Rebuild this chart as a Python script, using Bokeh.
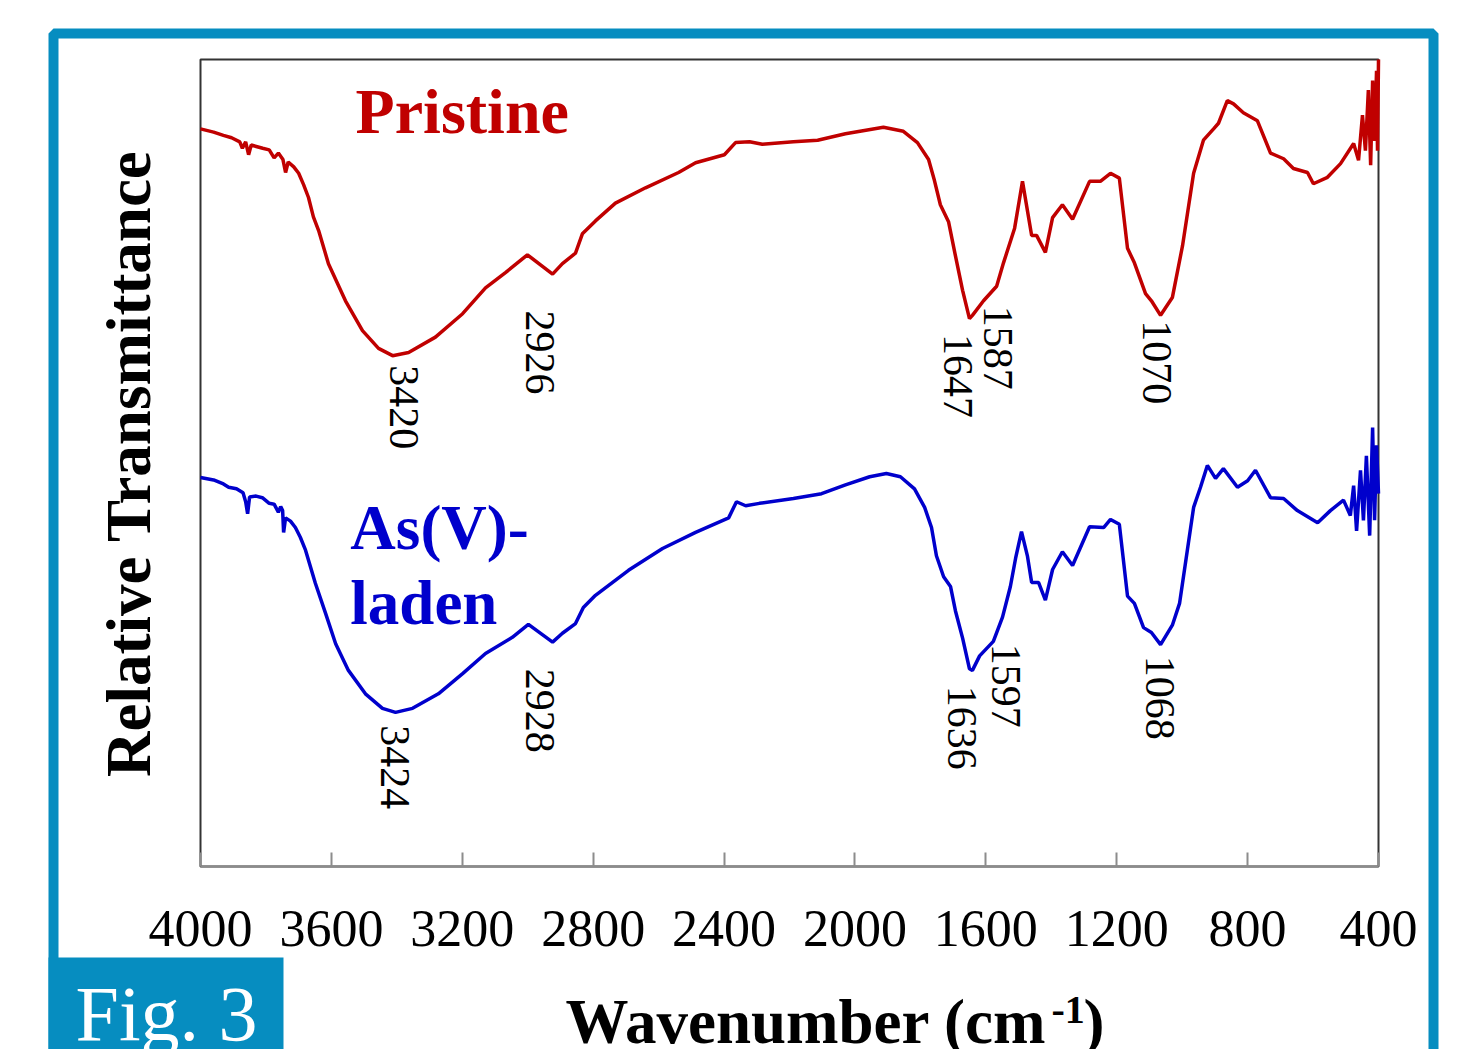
import numpy as np
from bokeh.plotting import figure
from bokeh.models import Range1d, FixedTicker, Label, BoxAnnotation, ColumnDataSource
from bokeh.core.properties import value
from bokeh.embed import file_html
from bokeh.resources import INLINE

# ---- data (wavenumber cm-1, relative transmittance a.u.) ----
pristine = [(4000, 91.4), (3960, 91.0), (3930, 90.6), (3905, 90.3), (3880, 89.8), (3872, 89.0),
            (3862, 89.8), (3853, 88.2), (3845, 89.4), (3810, 89.0), (3790, 88.8), (3775, 87.8),
            (3762, 88.4), (3748, 87.6), (3740, 86.0), (3732, 87.3), (3715, 86.7), (3700, 85.9),
            (3685, 84.5), (3670, 82.9), (3655, 80.5), (3639, 78.8), (3609, 74.7), (3557, 70.1),
            (3505, 66.4), (3456, 64.2), (3413, 63.3), (3364, 63.7), (3282, 65.6), (3199, 68.5),
            (3129, 71.7), (3068, 73.6), (3001, 75.8), (2924, 73.4), (2894, 74.7), (2854, 76.0),
            (2833, 78.4), (2793, 80.0), (2732, 82.2), (2640, 84.1), (2539, 86.0), (2487, 87.2),
            (2399, 88.2), (2365, 89.7), (2322, 89.8), (2283, 89.5), (2188, 89.8), (2114, 90.0),
            (2029, 90.8), (1913, 91.6), (1852, 91.1), (1809, 89.7), (1775, 87.6), (1757, 85.0),
            (1739, 82.0), (1714, 79.9), (1693, 75.7), (1671, 71.4), (1650, 67.9), (1641, 68.3),
            (1607, 70.1), (1567, 71.9), (1546, 74.8), (1512, 79.1), (1488, 84.9), (1460, 78.2),
            (1445, 78.2), (1418, 76.1), (1396, 80.4), (1366, 82.0), (1335, 80.2), (1283, 84.9),
            (1250, 84.9), (1219, 85.9), (1192, 85.3), (1167, 76.6), (1146, 74.8), (1112, 71.0),
            (1094, 70.1), (1066, 68.3), (1030, 70.5), (999, 76.9), (965, 85.9), (935, 90.0),
            (904, 91.4), (889, 92.1), (862, 94.9), (843, 94.5), (813, 93.4), (770, 92.4),
            (730, 88.4), (690, 87.7), (660, 86.5), (617, 86.0), (599, 84.6), (556, 85.4),
            (516, 87.1), (476, 89.6), (461, 87.5), (449, 93.1), (440, 88.7), (431, 96.2),
            (424, 86.9), (418, 97.4), (412, 89.9), (406, 98.6), (403, 88.7), (400, 100.0)]

as_laden = [(4000, 48.2), (3960, 47.9), (3930, 47.4), (3914, 47.0), (3890, 46.8), (3870, 46.3),
            (3862, 45.2), (3856, 43.7), (3850, 45.8), (3830, 45.9), (3811, 45.7), (3790, 45.0),
            (3775, 44.9), (3762, 43.9), (3755, 44.6), (3749, 44.1), (3746, 41.4), (3740, 43.2),
            (3725, 42.8), (3710, 42.0), (3695, 40.8), (3679, 39.2), (3649, 35.1), (3618, 31.4),
            (3587, 27.6), (3548, 24.3), (3496, 21.4), (3444, 19.6), (3404, 19.1), (3352, 19.6),
            (3273, 21.4), (3199, 23.9), (3129, 26.4), (3047, 28.4), (2998, 30.0), (2924, 27.8),
            (2894, 28.9), (2854, 30.1), (2830, 32.1), (2793, 33.6), (2692, 36.7), (2588, 39.4),
            (2487, 41.4), (2386, 43.2), (2362, 45.2), (2334, 44.7), (2292, 45.0), (2188, 45.6),
            (2102, 46.2), (2029, 47.3), (1955, 48.3), (1904, 48.7), (1861, 48.3), (1818, 46.8),
            (1787, 44.5), (1766, 42.0), (1751, 38.5), (1729, 35.9), (1708, 34.7), (1693, 31.7),
            (1671, 28.3), (1650, 24.5), (1641, 24.3), (1619, 26.1), (1577, 27.9), (1549, 30.9),
            (1525, 34.7), (1509, 38.2), (1491, 41.5), (1473, 38.5), (1460, 35.2), (1439, 35.2),
            (1418, 33.0), (1396, 36.8), (1366, 39.0), (1335, 37.3), (1283, 42.1), (1240, 42.0),
            (1219, 43.0), (1192, 42.4), (1167, 33.5), (1146, 32.6), (1118, 29.6), (1094, 29.0),
            (1066, 27.5), (1030, 29.9), (1008, 32.6), (965, 44.5), (944, 47.0), (923, 49.7),
            (898, 48.1), (874, 49.3), (831, 47.0), (800, 47.8), (776, 49.1), (730, 45.7),
            (690, 45.6), (648, 44.1), (586, 42.6), (547, 44.1), (507, 45.4), (486, 43.5),
            (476, 47.2), (467, 41.6), (455, 49.1), (446, 42.9), (437, 50.9), (427, 41.0),
            (418, 54.4), (412, 42.9), (406, 52.2), (400, 46.2)]

x_ticks = [4000, 3600, 3200, 2800, 2400, 2000, 1600, 1200, 800, 400]

peak_text_pristine = ["3420", "2926", "1647", "1587", "1070"]
peak_x_pristine = [3377, 2964, 1684, 1564, 1078]
peak_y_pristine = [62.1, 68.9, 66.0, 69.5, 67.7]

peak_text_laden = ["3424", "2928", "1636", "1597", "1068"]
peak_x_laden = [3407, 2964, 1674, 1537, 1069]
peak_y_laden = [17.5, 24.5, 22.4, 27.6, 26.1]

X_HI, X_LO = 4000, 400      # wavenumber axis limits
Y_LO, Y_HI = 0, 100         # transmittance axis limits

RED = "#C00000"
BLUE = "#0000CC"
CYAN = "#068DC0"
SERIF = "Liberation Serif"

# ---- layout (canvas pixels) ----
W, H = 1472, 1049
PL, PR, PT, PB = 200, 1378, 59, 866   # plot box
kx = (X_HI - X_LO) / (PR - PL)
ky = (Y_HI - Y_LO) / (PB - PT)
x_range = Range1d(X_HI + PL * kx, X_LO - (W - PR) * kx)
y_range = Range1d(Y_LO - (H - PB) * ky, Y_HI + PT * ky)

p = figure(width=W, height=H, output_backend="svg", toolbar_location=None,
           x_range=x_range, y_range=y_range, min_border=0)
p.extra_x_ranges = {"px": Range1d(0, W)}
p.extra_y_ranges = {"py": Range1d(H, 0)}
p.background_fill_color = "white"
p.border_fill_color = "white"
p.outline_line_color = None
p.grid.visible = False
p.yaxis.visible = False

ax = p.xaxis[0]
ax.fixed_location = Y_LO
ax.bounds = (X_LO, X_HI)
ax.ticker = FixedTicker(ticks=x_ticks)
ax.major_tick_in = 14
ax.major_tick_out = 0
ax.minor_tick_line_color = None
ax.axis_line_color = "#8c8c8c"
ax.axis_line_width = 2
ax.major_tick_line_color = "#8c8c8c"
ax.major_tick_line_width = 2
ax.major_label_text_font = SERIF
ax.major_label_text_font_size = "52px"
ax.major_label_text_color = "black"
ax.major_label_standoff = 44

# plot box outline
p.add_layout(BoxAnnotation(left=X_LO, right=X_HI, bottom=Y_LO, top=Y_HI, level="underlay",
                           fill_alpha=0, line_alpha=1, line_color="#333333", line_width=2))

src_p = ColumnDataSource(dict(x=[a for a, b in pristine], y=[b for a, b in pristine]))
src_l = ColumnDataSource(dict(x=[a for a, b in as_laden], y=[b for a, b in as_laden]))
p.line("x", "y", source=src_p, line_color=RED, line_width=3.5)
p.line("x", "y", source=src_l, line_color=BLUE, line_width=3.5)

p.text(x=peak_x_pristine, y=peak_y_pristine, text=peak_text_pristine, angle=-np.pi / 2,
       text_font=value(SERIF), text_font_size="42px", text_align="left",
       text_baseline="middle", text_color="black")
p.text(x=peak_x_laden, y=peak_y_laden, text=peak_text_laden, angle=-np.pi / 2,
       text_font=value(SERIF), text_font_size="42px", text_align="left",
       text_baseline="middle", text_color="black")

# series names
p.add_layout(Label(x=3526, y=93.5, text="Pristine", text_font=SERIF, text_font_size="64px",
                   text_font_style="bold", text_color=RED, text_baseline="alphabetic"))
p.add_layout(Label(x=3542, y=41.9, text="As(V)-", text_font=SERIF, text_font_size="63px",
                   text_font_style="bold", text_color=BLUE, text_baseline="alphabetic"))
p.add_layout(Label(x=3542, y=32.6, text="laden", text_font=SERIF, text_font_size="63px",
                   text_font_style="bold", text_color=BLUE, text_baseline="alphabetic"))

# axis titles (canvas pixel coordinates via extra ranges)
p.add_layout(Label(x=128, y=463, x_range_name="px", y_range_name="py",
                   text="Relative Transmittance", angle=np.pi / 2, text_align="center",
                   text_baseline="alphabetic", text_font=SERIF, text_font_size="63px",
                   text_font_style="bold", text_color="black"))
p.add_layout(Label(x=565, y=1021, x_range_name="px", y_range_name="py",
                   text="Wavenumber (cm", text_baseline="alphabetic", text_font=SERIF,
                   text_font_size="63px", text_font_style="bold", text_color="black"))
p.add_layout(Label(x=1051, y=1009, x_range_name="px", y_range_name="py",
                   text="-1", text_baseline="alphabetic", text_font=SERIF,
                   text_font_size="40px", text_font_style="bold", text_color="black"))
p.add_layout(Label(x=1083, y=1021, x_range_name="px", y_range_name="py",
                   text=")", text_baseline="alphabetic", text_font=SERIF,
                   text_font_size="63px", text_font_style="bold", text_color="black"))

# slide decorations
p.add_layout(BoxAnnotation(left=53, right=1433, top=33, bottom=1300,
                           x_range_name="px", y_range_name="py",
                           fill_alpha=0, line_alpha=1, line_color=CYAN, line_width=10))
p.add_layout(BoxAnnotation(left=48, right=283, top=957, bottom=1300,
                           x_range_name="px", y_range_name="py",
                           fill_color=CYAN, fill_alpha=1, line_alpha=0))
p.add_layout(Label(x=75, y=1013, x_range_name="px", y_range_name="py",
                   text="Fig. 3", text_baseline="alphabetic", text_font=SERIF,
                   text_font_size="78px", text_color="white"))

open("out.html", "w").write(file_html(p, INLINE))
